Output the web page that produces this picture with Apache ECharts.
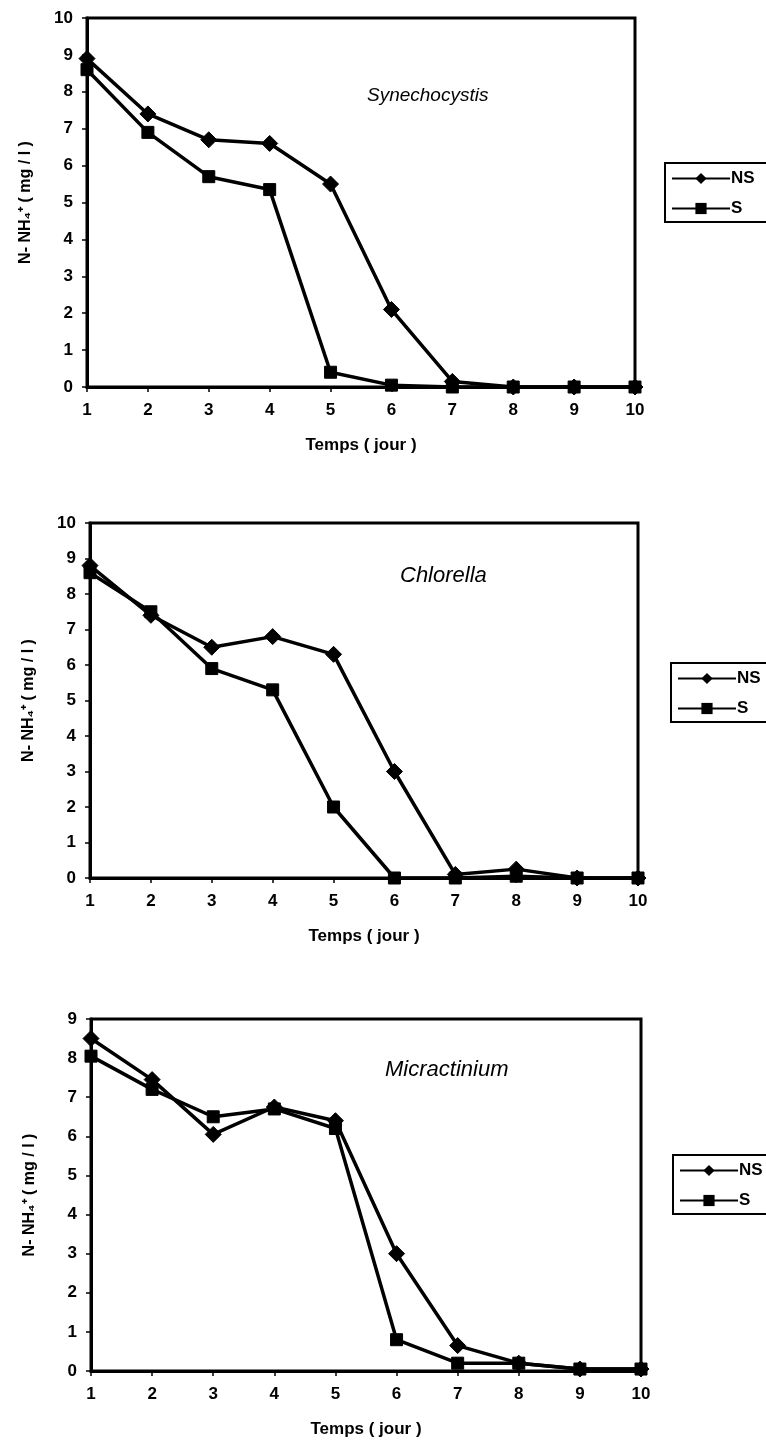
<!DOCTYPE html>
<html>
<head>
<meta charset="utf-8">
<script src="https://cdn.jsdelivr.net/npm/echarts@6/dist/echarts.min.js"></script>
<style>
html,body{margin:0;padding:0;background:#fff;}
#c{width:766px;height:1446px;}
</style>
</head>
<body>
<div id="c"></div>
<script>
const days = ['1','2','3','4','5','6','7','8','9','10'];
const seriesNames = ['NS','S'];
const titles = ['Synechocystis','Chlorella','Micractinium'];
const synNS = [8.9,7.4,6.7,6.6,5.5,2.1,0.15,0,0,0];
const synS  = [8.6,6.9,5.7,5.35,0.4,0.05,0,0,0,0];
const chlNS = [8.8,7.4,6.5,6.8,6.3,3.0,0.1,0.25,0,0];
const chlS  = [8.6,7.5,5.9,5.3,2.0,0,0,0.05,0,0];
const micNS = [8.5,7.45,6.05,6.75,6.4,3.0,0.65,0.2,0.05,0.05];
const micS  = [8.05,7.2,6.5,6.7,6.2,0.8,0.2,0.2,0.05,0.05];
const yMax = [10,10,9];
const xTitle = 'Temps ( jour )';
const yTitle = 'N- NH\u2084\u207A ( mg / l )';

const FONT = 'Liberation Sans';
const grids = [
  {left:87, top:18, width:548, height:369},
  {left:90, top:523, width:548, height:355},
  {left:91, top:1019, width:550, height:352}
];
const titlePos = [
  {left:367, top:86, size:19},
  {left:400, top:565, size:22},
  {left:385, top:1059, size:22}
];
const legendPos = [
  {left:665, top:163},
  {left:671, top:663},
  {left:673, top:1155}
];
const data = [[synNS,synS],[chlNS,chlS],[micNS,micS]];

const option = {
  backgroundColor:'#fff',
  animation:false,
  textStyle:{fontFamily:FONT,color:'#000'},
  grid: grids.map(g => Object.assign({show:true,borderColor:'#000',borderWidth:3,backgroundColor:'transparent',containLabel:false}, g)),
  title: titles.map((t,i)=>({text:t,left:titlePos[i].left,top:titlePos[i].top,padding:0,
    textStyle:{fontFamily:FONT,fontStyle:'italic',fontWeight:'normal',fontSize:titlePos[i].size,color:'#000'}})),
  legend: legendPos.map((p,i)=>({
    data:seriesNames, orient:'vertical', left:p.left, top:p.top,
    borderColor:'#000', borderWidth:2, padding:[7,40,5,6],
    itemWidth:58, itemHeight:14, itemGap:13, selectedMode:false,
    textStyle:{fontFamily:FONT,fontWeight:'bold',fontSize:17,color:'#000',padding:[0,0,0,-4]}
  })),
  xAxis: grids.map((g,i)=>({
    type:'category', gridIndex:i, data:days, boundaryGap:false,
    name:xTitle, nameLocation:'middle', nameGap:50,
    nameTextStyle:{fontFamily:FONT,fontWeight:'bold',fontSize:17,color:'#000'},
    axisLine:{lineStyle:{color:'#000',width:3}},
    axisTick:{show:true,length:5,inside:false,lineStyle:{color:'#000',width:1.5},alignWithLabel:true},
    axisLabel:{fontFamily:FONT,fontWeight:'bold',fontSize:17,color:'#000',margin:15},
    splitLine:{show:false}
  })),
  yAxis: grids.map((g,i)=>({
    type:'value', gridIndex:i, min:0, max:yMax[i], interval:1,
    name:yTitle, nameLocation:'middle', nameGap:53, nameRotate:90,
    nameTextStyle:{fontFamily:FONT,fontWeight:'bold',fontSize:16,color:'#000'},
    axisLine:{show:true,lineStyle:{color:'#000',width:3}},
    axisTick:{show:true,length:5,lineStyle:{color:'#000',width:1.5}},
    axisLabel:{fontFamily:FONT,fontWeight:'bold',fontSize:17,color:'#000',margin:14},
    splitLine:{show:false}
  })),
  series: []
};
data.forEach((pair,i)=>{
  option.series.push({
    name:'NS', type:'line', xAxisIndex:i, yAxisIndex:i, data:pair[0],
    symbol:'diamond', symbolSize:16, showAllSymbol:true,
    lineStyle:{color:'#000',width:3.5}, itemStyle:{color:'#000',borderColor:'#000'}
  });
  option.series.push({
    name:'S', type:'line', xAxisIndex:i, yAxisIndex:i, data:pair[1],
    symbol:'rect', symbolSize:12, showAllSymbol:true,
    lineStyle:{color:'#000',width:3.5}, itemStyle:{color:'#000',borderColor:'#000'}
  });
});
const chart = echarts.init(document.getElementById('c'), null, {renderer:'canvas'});
chart.setOption(option);
</script>
</body>
</html>
